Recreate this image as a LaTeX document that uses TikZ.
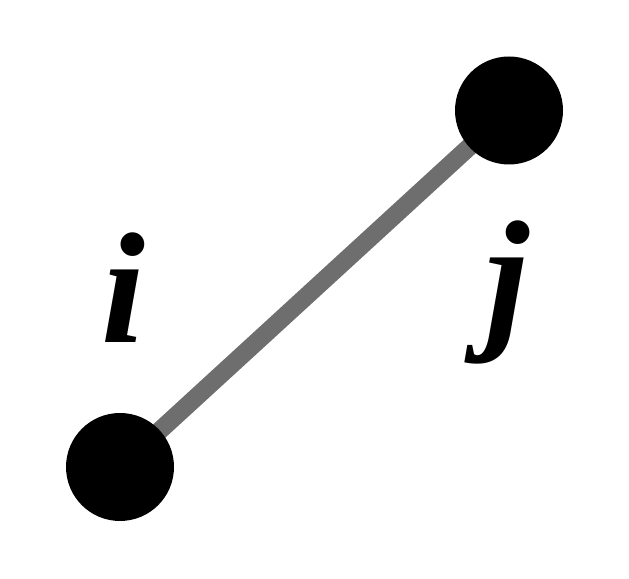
\documentclass[tikz,border=0pt]{standalone}
\usepackage{fontspec}
\setmainfont{Liberation Serif}
\definecolor{edgegray}{HTML}{6E6E6E}
\begin{document}
\begin{tikzpicture}[scale = 1,
    vertex/.style = {circle, fill = black, minimum size = 2.16cm, inner sep = 0pt},
    vlabel/.style = {anchor = base, inner sep = 0pt, font = \fontsize{90}{90}\selectfont\bfseries\itshape}]
        \useasboundingbox (0,0) rectangle (12.58,11.58);
        \coordinate (pi) at (2.40,2.24);
        \coordinate (pj) at (10.18,9.37);
        \draw [color = edgegray, line width = 0.36cm] (pi) -- (pj);
        \node [vertex] (vi) at (pi) {};
        \node [vertex] (vj) at (pj) {};
        \node [vlabel] (li) at (2.46,4.72) {i};
        \node [vlabel] (lj) at (10.14,4.96) {j};
    \end{tikzpicture}
\end{document}
